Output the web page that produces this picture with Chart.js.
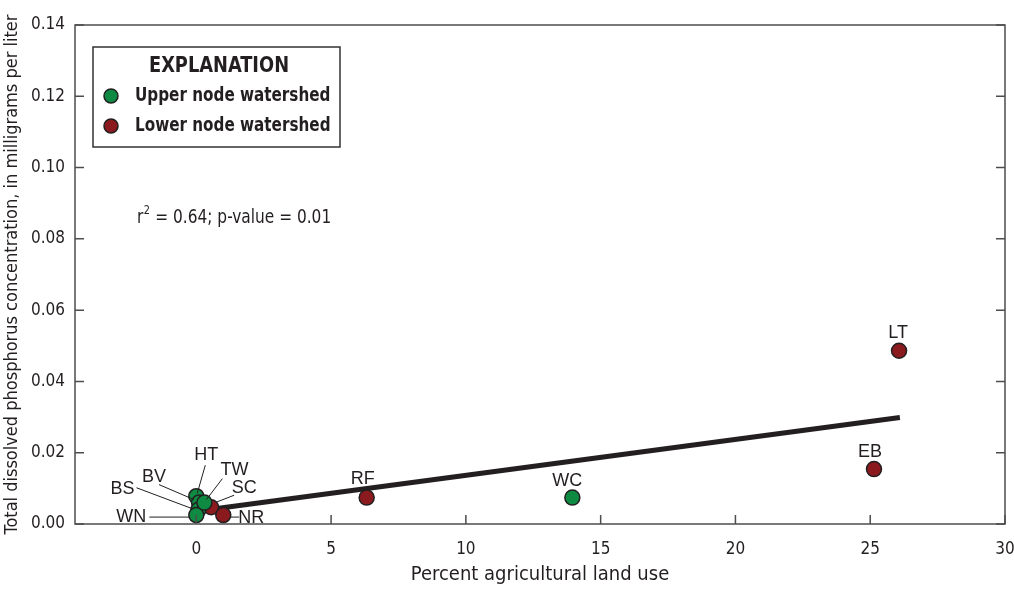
<!DOCTYPE html>
<html>
<head>
<meta charset="utf-8">
<script src="https://cdn.jsdelivr.net/npm/chart.js@4"></script>
<style>
  html, body { margin: 0; padding: 0; background: #fff; }
  #wrap { width: 1014px; height: 589px; position: relative; }
</style>
</head>
<body>
<div id="wrap"><canvas id="myChart" width="1014" height="589"></canvas></div>
<script>
// data
var upperNames = ['HT', 'BV', 'BS', 'WN', 'TW', 'WC'];
var upperX = [0.0, 0.1, 0.08, 0.0, 0.3, 13.95];
var upperY = [0.0078, 0.006, 0.004, 0.0025, 0.006, 0.0074];

var lowerNames = ['SC', 'NR', 'RF', 'EB', 'LT'];
var lowerX = [0.55, 1.0, 6.32, 25.14, 26.07];
var lowerY = [0.0047, 0.0025, 0.0074, 0.0154, 0.0486];

// regression line end points
var fitX = [0.0, 26.1];
var fitY = [0.0036, 0.0299];

var xTicks = [0, 5, 10, 15, 20, 25, 30];
var yTicks = [0, 0.02, 0.04, 0.06, 0.08, 0.10, 0.12, 0.14];
var statText = '= 0.64; p-value = 0.01';

var narrow = '"Liberation Sans Narrow", "Arial Narrow", "DejaVu Sans Condensed", Roboto, sans-serif';
var ink = '#231f20';
var green = '#0f8a43';
var red = '#8b1a1e';

// label placement, offsets in px from the point: [labelDx, labelDy, leaderFrom, leaderTo]
var labelPos = {
    HT: [10, -41, [9, -31], [1, -3]],
    BV: [-45, -26, [-40, -18], [-5, -3]],
    BS: [-76, -21, [-62, -22], [-6, -1]],
    WN: [-65, 2, [-47, 2], [-6, 2]],
    TW: [30, -33, [18, -24], [2, -3]],
    WC: [-5, -17],
    SC: [33, -19, [23, -12], [5, -5]],
    NR: [28, 3, [7, 2], [16, 2]],
    RF: [-4, -19],
    EB: [-4, -17],
    LT: [-1, -18]
};

function pts(xs, ys) {
    var out = [];
    for (var i = 0; i < xs.length; i++) out.push({x: xs[i], y: ys[i]});
    return out;
}

// draw text squeezed horizontally so it reads like a condensed face
function squeezed(ctx, txt, x, y, sx) {
    ctx.save();
    ctx.translate(x, y);
    ctx.scale(sx, 1);
    ctx.fillText(txt, 0, 0);
    ctx.restore();
}

var frame = {
    id: 'frame',
    afterDatasetsDraw: function (chart) {
        var ctx = chart.ctx, a = chart.chartArea;
        var xs = chart.scales.x, ys = chart.scales.y;
        ctx.save();
        // border and inward ticks
        ctx.strokeStyle = '#4d4d4d';
        ctx.lineWidth = 1.5;
        ctx.strokeRect(a.left, a.top, a.right - a.left, a.bottom - a.top);
        ctx.beginPath();
        yTicks.forEach(function (v) {
            var py = ys.getPixelForValue(v);
            ctx.moveTo(a.left, py); ctx.lineTo(a.left + 9, py);
            ctx.moveTo(a.right, py); ctx.lineTo(a.right - 9, py);
        });
        xTicks.forEach(function (v) {
            var px = xs.getPixelForValue(v);
            ctx.moveTo(px, a.bottom); ctx.lineTo(px, a.bottom - 9);
        });
        ctx.stroke();

        // point labels and leader lines
        ctx.font = '18px "Liberation Sans", Arial, sans-serif';
        ctx.fillStyle = ink;
        ctx.textAlign = 'center';
        ctx.textBaseline = 'middle';
        ctx.strokeStyle = ink;
        ctx.lineWidth = 1;
        chart.data.datasets.forEach(function (ds, di) {
            if (!ds.names) return;
            var meta = chart.getDatasetMeta(di);
            ds.names.forEach(function (n, i) {
                var el = meta.data[i], p = labelPos[n];
                ctx.fillText(n, el.x + p[0], el.y + p[1]);
                if (p[2]) {
                    ctx.beginPath();
                    ctx.moveTo(el.x + p[2][0], el.y + p[2][1]);
                    ctx.lineTo(el.x + p[3][0], el.y + p[3][1]);
                    ctx.stroke();
                }
            });
        });

        // statistics
        ctx.textAlign = 'left';
        ctx.save();
        ctx.translate(137, 218);
        ctx.scale(0.9, 1);
        ctx.font = '19px ' + narrow;
        ctx.fillText('r', 0, 0);
        var w = ctx.measureText('r').width;
        ctx.font = '12px ' + narrow;
        ctx.fillText('2', w + 0.5, -7);
        var w2 = ctx.measureText('2').width;
        ctx.font = '19px ' + narrow;
        ctx.fillText(' ' + statText, w + w2 + 1, 0);
        ctx.restore();

        // explanation box
        ctx.strokeStyle = '#333';
        ctx.lineWidth = 1.5;
        ctx.fillStyle = '#fff';
        ctx.fillRect(93, 47, 247, 100);
        ctx.strokeRect(93, 47, 247, 100);
        ctx.fillStyle = ink;
        ctx.textAlign = 'center';
        ctx.font = 'bold 22px ' + narrow;
        squeezed(ctx, 'EXPLANATION', 219, 66, 0.9);
        ctx.textAlign = 'left';
        ctx.font = 'bold 20px ' + narrow;
        var rows = [[chart.data.datasets[0], 96], [chart.data.datasets[1], 126]];
        rows.forEach(function (r) {
            ctx.beginPath();
            ctx.arc(111, r[1], 7, 0, Math.PI * 2);
            ctx.fillStyle = r[0].backgroundColor;
            ctx.fill();
            ctx.strokeStyle = ink;
            ctx.lineWidth = 1.5;
            ctx.stroke();
            ctx.fillStyle = ink;
            squeezed(ctx, r[0].label, 135, r[1], 0.845);
        });
        ctx.restore();
    }
};

var ctx = document.getElementById('myChart').getContext('2d');
var myChart = new Chart(ctx, {
    type: 'scatter',
    data: {
        datasets: [{
            label: 'Upper node watershed',
            names: upperNames,
            data: pts(upperX, upperY),
            backgroundColor: green,
            borderColor: ink,
            borderWidth: 1.5,
            pointRadius: 7.5,
            order: 1
        }, {
            label: 'Lower node watershed',
            names: lowerNames,
            data: pts(lowerX, lowerY),
            backgroundColor: red,
            borderColor: ink,
            borderWidth: 1.5,
            pointRadius: 7.5,
            order: 2
        }, {
            label: 'Trend',
            type: 'line',
            data: pts(fitX, fitY),
            borderColor: ink,
            borderWidth: 5,
            pointRadius: 0,
            showLine: true,
            order: 3
        }]
    },
    options: {
        responsive: false,
        animation: false,
        layout: { padding: { top: 25, right: 9, left: 0, bottom: 0 } },
        plugins: { legend: { display: false }, tooltip: { enabled: false } },
        scales: {
            x: {
                type: 'linear',
                min: -4.5,
                max: 30,
                afterBuildTicks: function (s) { s.ticks = xTicks.map(function (v) { return {value: v}; }); },
                afterFit: function (s) { s.height = 65; s.paddingLeft = 0; s.paddingRight = 0; },
                grid: { display: false },
                border: { display: false },
                ticks: { color: ink, padding: 7, maxRotation: 0, font: { family: narrow, size: 17 } },
                title: { display: true, text: 'Percent agricultural land use', color: ink,
                    font: { family: narrow, size: 20 }, padding: { top: 0, bottom: 2 } }
            },
            y: {
                min: 0,
                max: 0.14,
                afterBuildTicks: function (s) { s.ticks = yTicks.map(function (v) { return {value: v}; }); },
                afterFit: function (s) { s.width = 75; s.paddingTop = 0; s.paddingBottom = 0; },
                grid: { display: false },
                border: { display: false },
                ticks: { color: ink, padding: 2, font: { family: narrow, size: 17 },
                    callback: function (v) { return v.toFixed(2); } },
                title: { display: true, text: 'Total dissolved phosphorus concentration, in milligrams per liter',
                    color: ink, font: { family: narrow, size: 18 }, padding: { top: 2, bottom: 0 } }
            }
        }
    },
    plugins: [frame]
});
</script>
</body>
</html>
